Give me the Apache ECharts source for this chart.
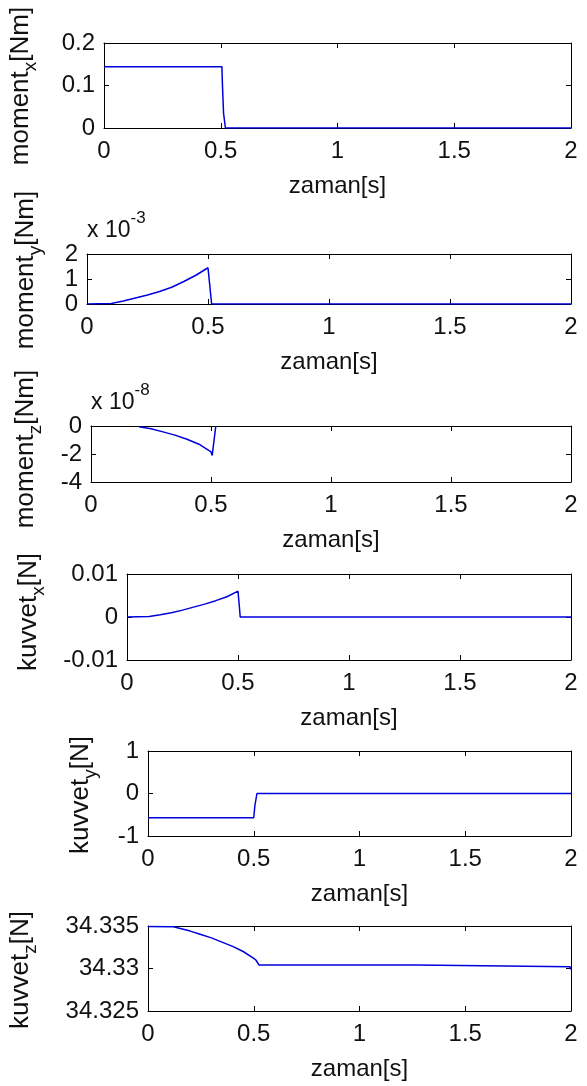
<!DOCTYPE html>
<html><head><meta charset="utf-8">
<script src="https://cdn.jsdelivr.net/npm/echarts@6/dist/echarts.min.js"></script>
<style>html,body{margin:0;padding:0;background:#fff}#c{width:587px;height:1086px}</style>
</head><body><div id="c"></div>
<script>
// ---------------- data ----------------
const xTickValues = [0, 0.5, 1, 1.5, 2];
const xAxisTitle = 'zaman[s]';
const yTitleMain = ['moment', 'moment', 'moment', 'kuvvet', 'kuvvet', 'kuvvet'];
const yTitleSub  = ['x', 'y', 'z', 'x', 'y', 'z'];
const yTitleUnit = ['[Nm]', '[Nm]', '[Nm]', '[N]', '[N]', '[N]'];
const yMin  = [0, 0, -4e-8, -0.01, -1, 34.325];
const yMax  = [0.2, 0.002, 0, 0.01, 1, 34.335];
const yStep = [0.1, 0.001, 2e-8, 0.01, 1, 0.005];
const yExponent = [null, '-3', '-8', null, null, null];

const momentX_t = [0, 0.505, 0.507, 0.512, 0.52, 2];
const momentX_v = [0.144, 0.144, 0.105, 0.035, 0, 0];

const momentY_t = [0, 0.1, 0.15, 0.2, 0.25, 0.3, 0.35, 0.4, 0.45, 0.5, 0.504, 0.515, 2];
const momentY_v = [0, 0.00002, 0.00012, 0.00024, 0.00036, 0.0005, 0.00067, 0.0009, 0.00115, 0.00145, 0.00145, 0, 0];

const momentZ_t = [0.2, 0.25, 0.3, 0.35, 0.4, 0.45, 0.5, 0.505, 0.52];
const momentZ_v = [-0.05e-8, -0.2e-8, -0.42e-8, -0.65e-8, -0.95e-8, -1.3e-8, -1.85e-8, -2.1e-8, 0];

const kuvvetX_t = [0, 0.1, 0.15, 0.2, 0.25, 0.3, 0.35, 0.4, 0.45, 0.5, 0.503, 0.506, 0.51, 2];
const kuvvetX_v = [0, 0.0001, 0.0005, 0.001, 0.0016, 0.0023, 0.003, 0.0038, 0.0047, 0.006, 0.0057, 0.0025, 0, 0];

const kuvvetY_t = [0, 0.5, 0.505, 0.51, 0.515, 2];
const kuvvetY_v = [-0.57, -0.57, -0.3, -0.27, 0, 0];

const kuvvetZ_t = [0, 0.12, 0.2, 0.25, 0.3, 0.35, 0.4, 0.45, 0.5, 0.51, 0.525, 1.27, 1.275, 1.995, 2];
const kuvvetZ_v = [34.33495, 34.3349, 34.3344, 34.334, 34.3336, 34.3331, 34.3326, 34.332, 34.3312, 34.331, 34.3304, 34.3304, 34.3302, 34.3302, 34.3299];

const seriesT = [momentX_t, momentY_t, momentZ_t, kuvvetX_t, kuvvetY_t, kuvvetZ_t];
const seriesV = [momentX_v, momentY_v, momentZ_v, kuvvetX_v, kuvvetY_v, kuvvetZ_v];

// ---------------- layout ----------------
const FONT = '"Liberation Sans", Arial, Helvetica, sans-serif';
const FS = 24;
const FT = 26;
const boxes = [
  {l: 104, t: 43,  r: 571, b: 128},
  {l: 87,  t: 254, r: 571, b: 304},
  {l: 91,  t: 426, r: 571, b: 482},
  {l: 127, t: 574, r: 571, b: 660},
  {l: 148, t: 751, r: 571, b: 836},
  {l: 148, t: 926, r: 571, b: 1011}
];
const yTitlePos = [[24, 86], [29, 270], [29, 449], [32, 612], [84, 795], [24, 970]];

const LINE = '#0000dc';
const grids = [], xAxes = [], yAxes = [], series = [], graphics = [];

boxes.forEach((bx, i) => {
  grids.push({left: bx.l, top: bx.t, width: bx.r - bx.l, height: bx.b - bx.t});
  const scale = yExponent[i] ? Math.pow(10, -Number(yExponent[i])) : 1;
  const common = {axisLine: {show: true, onZero: false, lineStyle: {color: '#000', width: 1}},
                  axisTick: {show: true, inside: true, length: 5, lineStyle: {color: '#000'}},
                  splitLine: {show: false}};
  xAxes.push(Object.assign({
    type: 'value', gridIndex: i, position: 'bottom',
    min: xTickValues[0], max: xTickValues[xTickValues.length - 1],
    interval: xTickValues[1] - xTickValues[0],
    name: xAxisTitle, nameLocation: 'middle', nameGap: 46,
    nameTextStyle: {fontSize: FS, fontFamily: FONT, color: '#111'},
    axisLabel: {fontSize: FS, fontFamily: FONT, color: '#111', margin: 11, showMinLabel: true, showMaxLabel: true}
  }, common));
  xAxes.push(Object.assign({
    type: 'value', gridIndex: i, position: 'top',
    min: xTickValues[0], max: xTickValues[xTickValues.length - 1],
    interval: xTickValues[1] - xTickValues[0],
    axisLabel: {show: false}
  }, common));
  const yl = {
    type: 'value', gridIndex: i, min: yMin[i], max: yMax[i], interval: yStep[i],
    axisLabel: {fontSize: FS, fontFamily: FONT, color: '#111', margin: 9, showMinLabel: true, showMaxLabel: true,
      formatter: scale === 1 ? undefined : (v) => String(Math.round(v * scale))}
  };
  yAxes.push(Object.assign({position: 'left'}, yl, common));
  yAxes.push(Object.assign({position: 'right'}, yl, common, {axisLabel: {show: false}}));

  series.push({
    type: 'line', xAxisIndex: 2 * i, yAxisIndex: 2 * i, showSymbol: false, symbol: 'none',
    lineStyle: {color: LINE, width: 1.5}, animation: false, z: 3,
    data: seriesT[i].map((t, k) => [t, seriesV[i][k]])
  });

  graphics.push({
    type: 'text', x: yTitlePos[i][0], y: yTitlePos[i][1], rotation: Math.PI / 2,
    style: {
      text: '{m|' + yTitleMain[i] + '}{s|' + yTitleSub[i] + '}{m|' + yTitleUnit[i] + '}',
      align: 'center', verticalAlign: 'middle', fill: '#111',
      rich: {
        m: {fontSize: FT, fontFamily: FONT, fill: '#111', verticalAlign: 'top'},
        s: {fontSize: 19, fontFamily: FONT, fill: '#111', verticalAlign: 'top', padding: [13, 0, 0, 0]}
      }
    }
  });
  if (yExponent[i]) {
    graphics.push({
      type: 'text', x: bx.l, y: bx.t - 28,
      style: {
        text: '{m|x 10}{p|' + yExponent[i] + '}',
        align: 'left', verticalAlign: 'middle', fill: '#111',
        rich: {
          m: {fontSize: FS - 1, fontFamily: FONT, fill: '#111', verticalAlign: 'top', padding: [10, 0, 0, 0]},
          p: {fontSize: 17, fontFamily: FONT, fill: '#111', verticalAlign: 'top'}
        }
      }
    });
  }
});

const chart = echarts.init(document.getElementById('c'), null, {renderer: 'canvas'});
chart.setOption({
  animation: false,
  backgroundColor: '#fff',
  grid: grids, xAxis: xAxes, yAxis: yAxes, series: series, graphic: graphics
});
</script></body></html>
